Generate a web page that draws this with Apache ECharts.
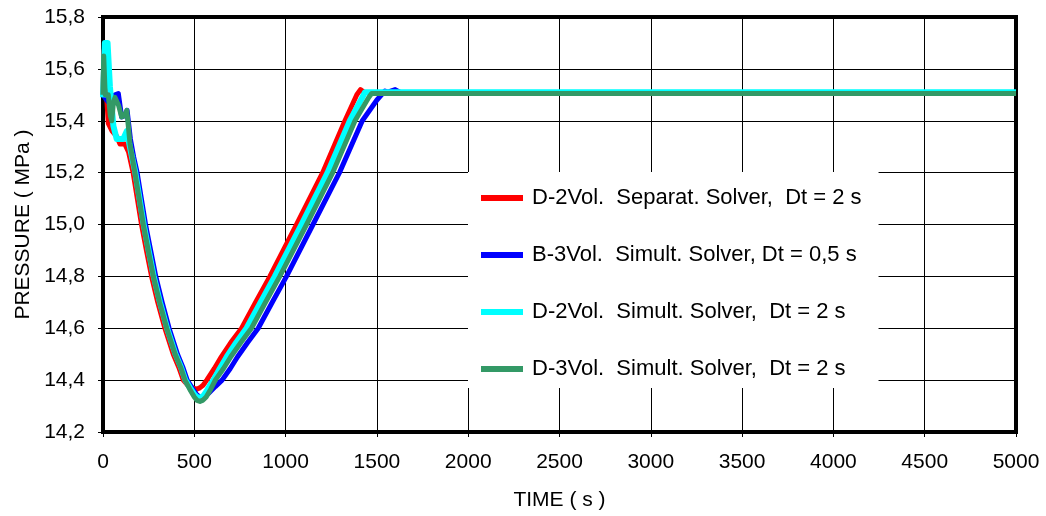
<!DOCTYPE html>
<html>
<head>
<meta charset="utf-8">
<script src="https://cdn.jsdelivr.net/npm/echarts@6/dist/echarts.min.js"></script>
<style>
  html, body { margin: 0; padding: 0; background: #fff; }
  #chart { width: 1046px; height: 516px; }
</style>
</head>
<body>
<div id="chart"></div>
<script>
// time (s) / pressure (MPa) samples
const redTime = [0, 5, 15, 29, 50, 75, 93, 120, 140, 165, 188, 211, 238, 266, 300, 339, 385, 415, 440, 465, 490, 513, 530, 548, 568, 610, 648, 700, 759, 836, 914, 1060, 1203, 1325, 1390, 1410, 1430, 5000];
const redPress = [15.50, 15.67, 15.55, 15.39, 15.36, 15.34, 15.31, 15.31, 15.28, 15.20, 15.10, 15.00, 14.90, 14.80, 14.70, 14.60, 14.50, 14.45, 14.40, 14.38, 14.37, 14.365, 14.37, 14.38, 14.40, 14.445, 14.49, 14.545, 14.60, 14.70, 14.80, 15.00, 15.20, 15.40, 15.50, 15.52, 15.51, 15.505];

const blueTime = [0, 20, 45, 66, 84, 102, 120, 132, 150, 168, 187, 210, 233, 261, 289, 324, 362, 408, 437, 461, 488, 512, 538, 558, 580, 615, 652, 697, 737, 792, 850, 927, 1005, 1150, 1295, 1420, 1500, 1544, 1560, 1600, 1625, 1640, 5000];
const bluePress = [15.50, 15.48, 15.46, 15.50, 15.505, 15.415, 15.42, 15.44, 15.33, 15.26, 15.20, 15.10, 15.00, 14.90, 14.80, 14.70, 14.60, 14.50, 14.45, 14.40, 14.37, 14.345, 14.33, 14.338, 14.35, 14.375, 14.40, 14.445, 14.49, 14.545, 14.60, 14.70, 14.80, 15.00, 15.20, 15.40, 15.48, 15.515, 15.51, 15.52, 15.51, 15.505, 15.505];

const cyanTime = [0, 10, 25, 38, 57, 75, 111, 130, 150, 162, 177, 200, 223, 250, 278, 312, 351, 397, 427, 451, 477, 500, 515, 528, 550, 570, 590, 605, 640, 678, 730, 786, 863, 941, 1087, 1230, 1352, 1420, 1435, 5000];
const cyanPress = [15.49, 15.70, 15.70, 15.53, 15.38, 15.33, 15.33, 15.36, 15.29, 15.25, 15.20, 15.10, 15.00, 14.90, 14.80, 14.70, 14.60, 14.50, 14.45, 14.40, 14.37, 14.345, 14.335, 14.33, 14.34, 14.36, 14.385, 14.40, 14.445, 14.49, 14.545, 14.60, 14.70, 14.80, 15.00, 15.20, 15.40, 15.49, 15.51, 15.51];

const greenTime = [0, 4, 12, 29, 40, 48, 57, 66, 85, 102, 118, 130, 140, 148, 160, 175, 198, 221, 248, 276, 310, 349, 395, 425, 449, 475, 500, 515, 531, 548, 565, 590, 615, 660, 700, 755, 813, 890, 968, 1115, 1258, 1380, 1455, 1471, 5000];
const greenPress = [15.50, 15.65, 15.50, 15.50, 15.42, 15.40, 15.47, 15.49, 15.46, 15.415, 15.42, 15.44, 15.37, 15.31, 15.26, 15.20, 15.10, 15.00, 14.90, 14.80, 14.70, 14.60, 14.50, 14.45, 14.40, 14.365, 14.335, 14.322, 14.318, 14.323, 14.335, 14.365, 14.40, 14.445, 14.49, 14.545, 14.60, 14.70, 14.80, 15.00, 15.20, 15.40, 15.49, 15.505, 15.505];

const seriesNames = [
  'D-2Vol.  Separat. Solver,  Dt = 2 s',
  'B-3Vol.  Simult. Solver, Dt = 0,5 s',
  'D-2Vol.  Simult. Solver,  Dt = 2 s',
  'D-3Vol.  Simult. Solver,  Dt = 2 s'
];
const seriesColors = ['#ff0000', '#0000ff', '#00ffff', '#339966'];

const zip = (t, p) => t.map((v, i) => [v, p[i]]);
const curves = [
  zip(redTime, redPress),
  zip(blueTime, bluePress),
  zip(cyanTime, cyanPress),
  zip(greenTime, greenPress)
];

const chart = echarts.init(document.getElementById('chart'));
const font = 'Liberation Sans, Arial, sans-serif';

const option = {
  backgroundColor: '#fff',
  animation: false,
  textStyle: { fontFamily: font },
  grid: {
    left: 103,
    right: 30,
    top: 17,
    bottom: 84,
    show: true,
    borderColor: '#000',
    borderWidth: 4
  },
  legend: {
    orient: 'vertical',
    left: 468,
    top: 172,
    backgroundColor: '#fff',
    padding: [13, 17, 6, 13],
    itemGap: 31,
    itemWidth: 42,
    itemHeight: 6,
    icon: 'rect',
    selectedMode: false,
    textStyle: {
      fontFamily: font,
      fontSize: 22,
      lineHeight: 26,
      color: '#000',
      padding: [0, 0, 0, 4]
    },
    data: seriesNames
  },
  xAxis: {
    type: 'value',
    min: 0,
    max: 5000,
    interval: 500,
    name: 'TIME ( s )',
    nameLocation: 'middle',
    nameGap: 58,
    nameTextStyle: { fontFamily: font, fontSize: 21, color: '#000' },
    axisLine: { show: false },
    axisTick: { show: true, length: 5, lineStyle: { color: '#000' } },
    axisLabel: {
      fontFamily: font,
      fontSize: 21,
      color: '#000',
      margin: 20,
      formatter: v => String(v)
    },
    splitLine: { show: true, lineStyle: { color: '#000', width: 1 } }
  },
  yAxis: {
    type: 'value',
    min: 14.2,
    max: 15.8,
    interval: 0.2,
    name: 'PRESSURE ( MPa )',
    nameLocation: 'middle',
    nameGap: 63,
    nameTextStyle: { fontFamily: font, fontSize: 21, color: '#000' },
    axisLine: { show: false },
    axisTick: { show: true, length: 5, lineStyle: { color: '#000' } },
    axisLabel: {
      fontFamily: font,
      fontSize: 21,
      color: '#000',
      margin: 18,
      formatter: v => v.toFixed(1).replace('.', ',')
    },
    splitLine: { show: true, lineStyle: { color: '#000', width: 1 } }
  },
  series: curves.map((d, i) => ({
    name: seriesNames[i],
    type: 'line',
    data: d,
    showSymbol: false,
    symbol: 'none',
    color: seriesColors[i],
    lineStyle: { color: seriesColors[i], width: i === 2 ? 6 : 5, join: 'round' }
  }))
};

chart.setOption(option);
</script>
</body>
</html>
